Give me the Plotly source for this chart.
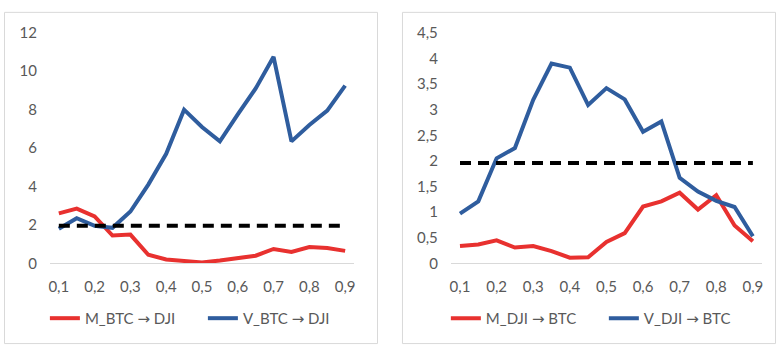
import plotly.graph_objects as go

quantiles = [0.1, 0.15, 0.2, 0.25, 0.3, 0.35, 0.4, 0.45, 0.5, 0.55, 0.6, 0.65, 0.7, 0.75, 0.8, 0.85, 0.9]

m_btc_dji = [2.6, 2.85, 2.45, 1.45, 1.5, 0.45, 0.2, 0.1, 0.05, 0.15, 0.3, 0.4, 0.75, 0.6, 0.85, 0.8, 0.65]
v_btc_dji = [1.8, 2.35, 1.95, 1.85, 2.7, 4.1, 5.7, 8.0, 7.1, 6.35, 7.75, 9.1, 10.75, 6.35, 7.2, 7.95, 9.25]

m_dji_btc = [0.34, 0.37, 0.45, 0.31, 0.34, 0.24, 0.11, 0.12, 0.42, 0.59, 1.11, 1.21, 1.38, 1.05, 1.33, 0.74, 0.43]
v_dji_btc = [0.97, 1.21, 2.05, 2.25, 3.19, 3.9, 3.82, 3.09, 3.42, 3.2, 2.57, 2.77, 1.67, 1.4, 1.22, 1.1, 0.53]

critical = [1.96] * len(quantiles)

ARROW = "<span style='font-family:DejaVu Sans'>\u2192</span>"
left_names = ["M_BTC " + ARROW + " DJI", "V_BTC " + ARROW + " DJI"]
right_names = ["M_DJI " + ARROW + " BTC", "V_DJI " + ARROW + " BTC"]

RED = "#E8312F"
BLUE = "#2F5D9E"
GRAY = "#595959"
FONT = "Lato"

W, H = 777, 353


def px(x):
    return x / W


def py(y):
    return 1 - y / H


fig = go.Figure()

fig.add_trace(go.Scatter(x=quantiles, y=m_btc_dji, name=left_names[0], mode="lines",
                         line=dict(color=RED, width=4), xaxis="x", yaxis="y", legend="legend"))
fig.add_trace(go.Scatter(x=quantiles, y=v_btc_dji, name=left_names[1], mode="lines",
                         line=dict(color=BLUE, width=4), xaxis="x", yaxis="y", legend="legend"))
fig.add_trace(go.Scatter(x=quantiles, y=critical, mode="lines", showlegend=False,
                         line=dict(color="black", width=4, dash="11px,7px"), xaxis="x", yaxis="y"))

fig.add_trace(go.Scatter(x=quantiles, y=m_dji_btc, name=right_names[0], mode="lines",
                         line=dict(color=RED, width=4), xaxis="x2", yaxis="y2", legend="legend2"))
fig.add_trace(go.Scatter(x=quantiles, y=v_dji_btc, name=right_names[1], mode="lines",
                         line=dict(color=BLUE, width=4), xaxis="x2", yaxis="y2", legend="legend2"))
fig.add_trace(go.Scatter(x=quantiles, y=critical, mode="lines", showlegend=False,
                         line=dict(color="black", width=4, dash="11px,7px"), xaxis="x2", yaxis="y2"))

ydom = [py(267), py(24)]
xcommon = dict(range=[0.075, 0.925], tickvals=[0.1, 0.2, 0.3, 0.4, 0.5, 0.6, 0.7, 0.8, 0.9],
               tickformat=".1f", showgrid=False, zeroline=False, showline=True,
               linecolor="#D9D9D9", linewidth=1, ticks="", ticklabelstandoff=10,
               tickfont=dict(family=FONT, size=15, color=GRAY))
ycommon = dict(showgrid=False, zeroline=False, showline=False, ticks="",
               ticklabelstandoff=12, tickfont=dict(family=FONT, size=15, color=GRAY), domain=ydom)

legend_common = dict(orientation="h", y=py(325), xanchor="left", yanchor="middle",
                     font=dict(family=FONT, size=15, color=GRAY), bgcolor="rgba(0,0,0,0)",
                     entrywidth=113, entrywidthmode="pixels", tracegroupgap=0)

fig.update_layout(
    width=W, height=H,
    margin=dict(l=0, r=0, t=0, b=0),
    paper_bgcolor="white", plot_bgcolor="white",
    separators=",.",
    xaxis=dict(domain=[px(49), px(354)], anchor="y", **xcommon),
    yaxis=dict(range=[0, 12], dtick=2, anchor="x", **ycommon),
    xaxis2=dict(domain=[px(451), px(763)], anchor="y2", **xcommon),
    yaxis2=dict(range=[0, 4.5], dtick=0.5, tickformat="~g", anchor="x2", **ycommon),
    legend=dict(x=px(44), **legend_common),
    legend2=dict(x=px(446), **legend_common),
    showlegend=True,
    shapes=[
        dict(type="rect", xref="paper", yref="paper", x0=px(3.5), x1=px(377.5), y0=py(351.5), y1=py(2.5),
             line=dict(color="#D9D9D9", width=1), fillcolor="rgba(0,0,0,0)"),
        dict(type="rect", xref="paper", yref="paper", x0=px(402.5), x1=px(776.5), y0=py(351.5), y1=py(2.5),
             line=dict(color="#D9D9D9", width=1), fillcolor="rgba(0,0,0,0)"),
    ],
)

fig.write_html("out.html")
